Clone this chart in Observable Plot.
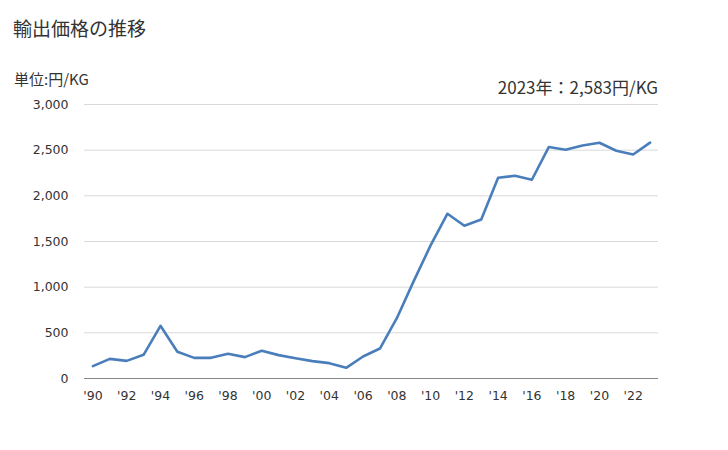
<!DOCTYPE html>
<html><head><meta charset="utf-8">
<script src="https://cdn.jsdelivr.net/npm/d3@7"></script>
<script src="https://cdn.jsdelivr.net/npm/@observablehq/plot@0.6"></script>
<style>
body{margin:0;background:#fff;font-family:"Noto Sans CJK JP","Noto Sans",sans-serif;color:#333;}
#wrap{position:relative;width:728px;height:450px;}
#wrap svg{position:absolute;left:0;top:0;}
.t{position:absolute;white-space:nowrap;}
</style></head><body>
<div id="wrap">
<div class="t" style="left:13px;top:14px;font-size:19px;">輸出価格の推移</div>
<div class="t" style="left:14px;top:68px;font-size:15px;">単位:円/KG</div>
<div class="t" style="right:70px;top:74px;font-size:17px;">2023年：2,583円/KG</div>
</div>
<script>
const years = [1990,1991,1992,1993,1994,1995,1996,1997,1998,1999,2000,2001,2002,2003,2004,2005,2006,2007,2008,2009,2010,2011,2012,2013,2014,2015,2016,2017,2018,2019,2020,2021,2022,2023];
const values = [135,215,193,259,577,292,226,226,270,234,303,256,222,190,168,117,241,328,660,1066,1457,1804,1672,1741,2198,2220,2176,2534,2505,2552,2581,2494,2453,2583];
const yTicks = [0,500,1000,1500,2000,2500,3000];
const xTicks = years.filter(y => y % 2 === 0);
const data = years.map((y,i) => ({year:y, value:values[i]}));
const xFmt = d => "'" + String(d).slice(2);

const chart = Plot.plot({
  width:728, height:450,
  marginLeft:84, marginRight:70, marginTop:104, marginBottom:72,
  style:{fontFamily:'"DejaVu Sans",sans-serif', fontSize:"12.5px", color:"#333", background:"transparent"},
  x:{type:"linear", domain:[years[0]-0.5, years[years.length-1]+0.5], label:null},
  y:{domain:[0,3000], label:null},
  marks:[
    Plot.gridY(yTicks.filter(d=>d>0), {stroke:"#d9d9d9", strokeOpacity:1}),
    Plot.ruleY([0], {stroke:"#888"}),
    Plot.axisX({ticks:xTicks, tickFormat:xFmt, tickSize:0, tickPadding:13, fontSize:12.5, fontFamily:"DejaVu Sans", label:null}),
    Plot.axisY({ticks:yTicks, tickFormat:d3.format(","), tickSize:0, tickPadding:16, fontSize:12.5, fontFamily:"DejaVu Sans", label:null}),
    Plot.line(data, {x:"year", y:"value", stroke:"#4a7ebb", strokeWidth:2.6})
  ]
});
document.getElementById("wrap").prepend(chart);
</script>
</body></html>
